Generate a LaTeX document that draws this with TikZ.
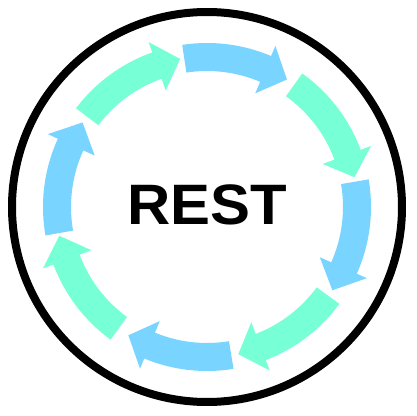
\documentclass[tikz,border=0pt]{standalone}
\usepackage{fontspec}
\setmainfont{Liberation Sans}
\definecolor{arrblue}{RGB}{121,212,255}
\definecolor{arrgreen}{RGB}{119,255,213}
\newcommand\ringarrow[4]{%
  \fill[#1] (#2:164) arc[start angle=#2, end angle=#3, radius=164]
    -- (#3:175) -- (#4:150.5) -- (#3:123.5) -- (#3:136)
    arc[start angle=#3, end angle=#2, radius=136] -- cycle;}
\begin{document}
\begin{tikzpicture}[x=1pt,y=1pt,
  ring/.style={draw=black, line width=8pt},
  title/.style={font=\bfseries\fontsize{57}{57}\selectfont, inner sep=0pt, xscale=1.05}]
\useasboundingbox (0,0) rectangle (416,416);
\fill[white] (0,0) rectangle (416,416);
\draw[ring] (207,209) circle[radius=195];
\begin{scope}[shift={(207,209)}]
  \ringarrow{arrblue}{98.7}{67}{57.9}
  \ringarrow{arrgreen}{54.5}{20.4}{11.4}
  \ringarrow{arrblue}{9.7}{-24}{-33.6}
  \ringarrow{arrgreen}{-36.2}{-69}{-78}
  \ringarrow{arrblue}{-80.7}{-112.5}{-121.5}
  \ringarrow{arrgreen}{-126}{-159.5}{-169}
  \ringarrow{arrblue}{190}{155.4}{145.8}
  \ringarrow{arrgreen}{143}{109.5}{100.3}
\end{scope}
\node[title] (rest) at (207.5,211) {REST};
\end{tikzpicture}
\end{document}
